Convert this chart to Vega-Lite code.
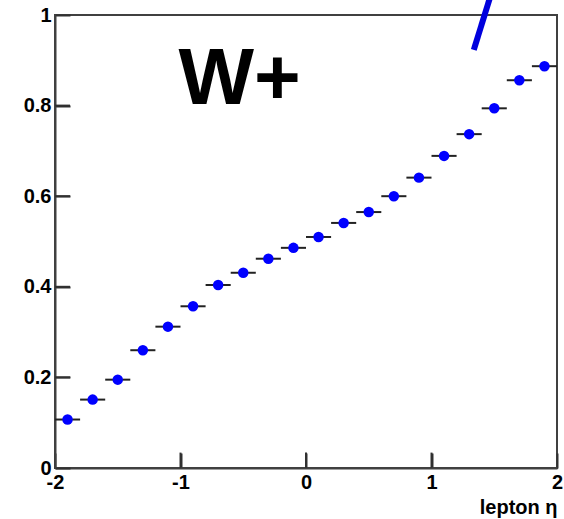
{
  "$schema": "https://vega.github.io/schema/vega-lite/v6.json",
  "autosize": {"type": "none"},
  "padding": {"left": 55, "top": 15, "right": 7, "bottom": 51},
  "width": 502,
  "height": 453,
  "background": "white",
  "config": {
    "view": {"stroke": "#404040", "strokeWidth": 2},
    "font": "Liberation Sans",
    "axis": {
      "grid": false,
      "domainColor": "#404040",
      "domainWidth": 2,
      "ticks": true,
      "tickColor": "#303030",
      "tickWidth": 2,
      "tickSize": -15,
      "labelFont": "Liberation Sans",
      "labelFontWeight": "bold",
      "labelFontSize": 20,
      "labelColor": "black",
      "labelPadding": 19,
      "labelFlush": false,
      "labelOverlap": false,
      "labelExpr": "'' + datum.value"
    }
  },
  "datasets": {
    "fraction": [
      {"eta": -1.9, "lo": -2.0, "hi": -1.8, "frac": 0.107},
      {"eta": -1.7, "lo": -1.8, "hi": -1.6, "frac": 0.151},
      {"eta": -1.5, "lo": -1.6, "hi": -1.4, "frac": 0.195},
      {"eta": -1.3, "lo": -1.4, "hi": -1.2, "frac": 0.260},
      {"eta": -1.1, "lo": -1.2, "hi": -1.0, "frac": 0.312},
      {"eta": -0.9, "lo": -1.0, "hi": -0.8, "frac": 0.357},
      {"eta": -0.7, "lo": -0.8, "hi": -0.6, "frac": 0.404},
      {"eta": -0.5, "lo": -0.6, "hi": -0.4, "frac": 0.431},
      {"eta": -0.3, "lo": -0.4, "hi": -0.2, "frac": 0.462},
      {"eta": -0.1, "lo": -0.2, "hi": 0.0, "frac": 0.486},
      {"eta": 0.1, "lo": 0.0, "hi": 0.2, "frac": 0.510},
      {"eta": 0.3, "lo": 0.2, "hi": 0.4, "frac": 0.541},
      {"eta": 0.5, "lo": 0.4, "hi": 0.6, "frac": 0.565},
      {"eta": 0.7, "lo": 0.6, "hi": 0.8, "frac": 0.600},
      {"eta": 0.9, "lo": 0.8, "hi": 1.0, "frac": 0.641},
      {"eta": 1.1, "lo": 1.0, "hi": 1.2, "frac": 0.689},
      {"eta": 1.3, "lo": 1.2, "hi": 1.4, "frac": 0.737},
      {"eta": 1.5, "lo": 1.4, "hi": 1.6, "frac": 0.794},
      {"eta": 1.7, "lo": 1.6, "hi": 1.8, "frac": 0.856},
      {"eta": 1.9, "lo": 1.8, "hi": 2.0, "frac": 0.887}
    ],
    "label": [
      {"eta": -0.53, "frac": 0.803, "text": "W+"}
    ],
    "stroke": [
      {"eta": 1.337, "frac": 0.923},
      {"eta": 1.49, "frac": 1.06}
    ],
    "yTicks": [
      {"v": 0.2}, {"v": 0.4}, {"v": 0.6}, {"v": 0.8}
    ],
    "xTicks": [
      {"v": -1}, {"v": 0}, {"v": 1}
    ]
  },
  "layer": [
    {
      "data": {"name": "fraction"},
      "mark": {"type": "rule", "color": "#222222", "strokeWidth": 2},
      "encoding": {
        "x": {
          "field": "lo",
          "type": "quantitative",
          "scale": {"domain": [-2, 2], "nice": false, "zero": false},
          "axis": {
            "values": [-2, -1, 0, 1, 2],
            "title": "lepton η",
            "titleFont": "Liberation Sans",
            "titleFontWeight": "bold",
            "titleFontSize": 20,
            "titleColor": "black",
            "titleAnchor": "end",
            "titleAlign": "right",
            "titleBaseline": "alphabetic",
            "titleY": 45
          }
        },
        "x2": {"field": "hi"},
        "y": {
          "field": "frac",
          "type": "quantitative",
          "scale": {"domain": [0, 1], "nice": false},
          "axis": {
            "values": [0, 0.2, 0.4, 0.6, 0.8, 1],
            "title": null
          }
        }
      }
    },
    {
      "data": {"name": "yTicks"},
      "mark": {"type": "rule", "color": "#303030", "strokeWidth": 2},
      "encoding": {
        "x": {"datum": -2, "type": "quantitative"},
        "x2": {"datum": -1.88},
        "y": {"field": "v", "type": "quantitative"}
      }
    },
    {
      "data": {"name": "xTicks"},
      "mark": {"type": "rule", "color": "#303030", "strokeWidth": 2},
      "encoding": {
        "x": {"field": "v", "type": "quantitative"},
        "y": {"datum": 0, "type": "quantitative"},
        "y2": {"datum": 0.034}
      }
    },
    {
      "data": {"name": "fraction"},
      "mark": {"type": "point", "filled": true, "shape": "circle", "color": "#0000ff", "opacity": 1, "size": 110},
      "encoding": {
        "x": {"field": "eta", "type": "quantitative"},
        "y": {"field": "frac", "type": "quantitative"}
      }
    },
    {
      "data": {"name": "label"},
      "mark": {"type": "text", "font": "Liberation Sans", "fontWeight": "bold", "fontSize": 80, "align": "center", "baseline": "alphabetic", "color": "black"},
      "encoding": {
        "x": {"field": "eta", "type": "quantitative"},
        "y": {"field": "frac", "type": "quantitative"},
        "text": {"field": "text"}
      }
    },
    {
      "data": {"name": "stroke"},
      "mark": {"type": "line", "color": "#0000dd", "strokeWidth": 6, "strokeCap": "butt", "clip": false},
      "encoding": {
        "x": {"field": "eta", "type": "quantitative"},
        "y": {"field": "frac", "type": "quantitative"}
      }
    }
  ]
}
